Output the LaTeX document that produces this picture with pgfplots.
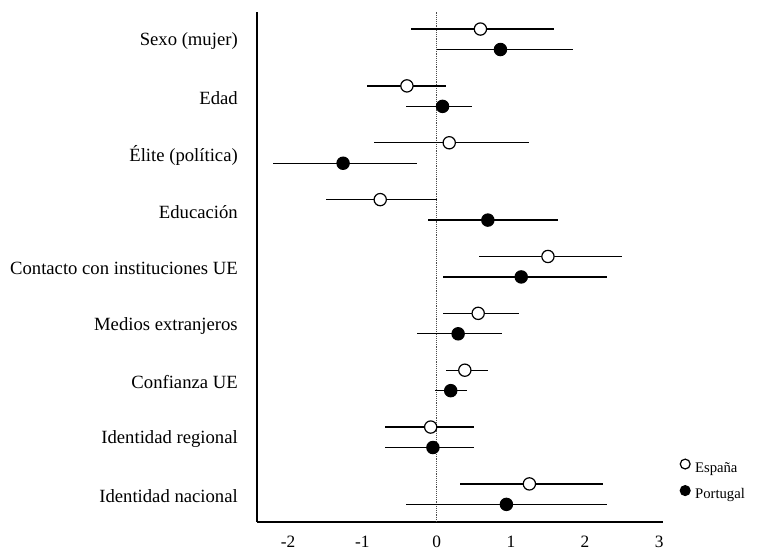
\documentclass[border=0pt]{standalone}
\usepackage{fontspec}
\setmainfont{Liberation Serif}
\usepackage{pgfplots}
\usepackage{pgfplotstable}
\pgfplotsset{compat=1.18}

% Espana: estimate, y position, lower and upper bound
\pgfplotstableread{
x y lo hi
0.59 0.18 -0.34 1.58
-0.40 -0.82 -0.94 0.12
0.17 -1.82 -0.85 1.25
-0.76 -2.82 -1.49 0.00
1.50 -3.82 0.57 2.50
0.56 -4.82 0.08 1.11
0.38 -5.82 0.13 0.69
-0.08 -6.82 -0.69 0.51
1.25 -7.82 0.32 2.24
}\esp

% Portugal
\pgfplotstableread{
x y lo hi
0.86 -0.18 0.00 1.84
0.08 -1.18 -0.41 0.48
-1.26 -2.18 -2.20 -0.27
0.69 -3.18 -0.11 1.63
1.14 -4.18 0.08 2.30
0.29 -5.18 -0.27 0.88
0.19 -6.18 -0.02 0.41
-0.05 -7.18 -0.69 0.51
0.94 -8.18 -0.41 2.30
}\por

\begin{document}
\begin{tikzpicture}
\useasboundingbox (-192.75bp,-24.75bp) rectangle (381bp,391.5bp);
\begin{axis}[
  at={(0,0)}, anchor=south west,
  scale only axis,
  width=304.5bp, height=382.5bp,
  xmin=-2.42, xmax=3.05,
  ymin=-8.49, ymax=0.48,
  axis x line*=bottom, axis y line*=left,
  axis line style={line width=1.1bp, black},
  major tick length=0pt,
  tick style={draw=none},
  xtick={-2,-1,0,1,2,3},
  xticklabels={-2,-1,0,1,2,3},
  xticklabel style={font=\fontsize{13bp}{15bp}\selectfont, anchor=north, inner sep=0pt, yshift=-10.5bp},
  ytick={-8,-7,-6,-5,-4,-3,-2,-1,0},
  yticklabels={Identidad nacional, Identidad regional, Confianza UE, Medios extranjeros, Contacto con instituciones UE, Educación, Élite (política), Edad, Sexo (mujer)},
  yticklabel style={font=\fontsize{14bp}{16bp}\selectfont, anchor=east, inner sep=0pt, xshift=-14.25bp, yshift=-1.5bp},
  clip=false,
  legend cell align=left,
  legend style={draw=none, fill=none, at={(1,0.0814)}, anchor=west, xshift=12.75bp,
    inner sep=0pt, font=\fontsize{11bp}{13bp}\selectfont,
    nodes={inner sep=0pt, text height=7.5bp, text depth=2.4bp},
    row sep=7.75bp,
    /tikz/every odd column/.append style={column sep=3.75bp}},
  legend image code/.code={\draw[#1, mark size=3.7bp] plot coordinates {(3.7bp,3.5bp)};},
]
% zero reference line
\addplot[forget plot, gray!60!black, line width=0.7bp, dash pattern=on 0.7bp off 0.7bp] coordinates {(0,-8.49) (0,0.48)};
% confidence intervals
\addplot[forget plot, draw=none, mark=none,
  error bars/.cd, x dir=both, x explicit, error mark=none,
  error bar style={line width=0.9bp, black}]
  table[x=x, y=y, x error plus expr=\thisrow{hi}-\thisrow{x}, x error minus expr=\thisrow{x}-\thisrow{lo}] {\esp};
\addplot[forget plot, draw=none, mark=none,
  error bars/.cd, x dir=both, x explicit, error mark=none,
  error bar style={line width=0.9bp, black}]
  table[x=x, y=y, x error plus expr=\thisrow{hi}-\thisrow{x}, x error minus expr=\thisrow{x}-\thisrow{lo}] {\por};
% point estimates
\addplot[only marks, mark=*, mark size=4.6bp, mark options={fill=white, draw=black, line width=0.9bp}] table[x=x, y=y] {\esp};
\addlegendentry{España}
\addplot[only marks, mark=*, mark size=4.6bp, mark options={fill=black, draw=black, line width=0.9bp}] table[x=x, y=y] {\por};
\addlegendentry{Portugal}
\end{axis}
\end{tikzpicture}
\end{document}
